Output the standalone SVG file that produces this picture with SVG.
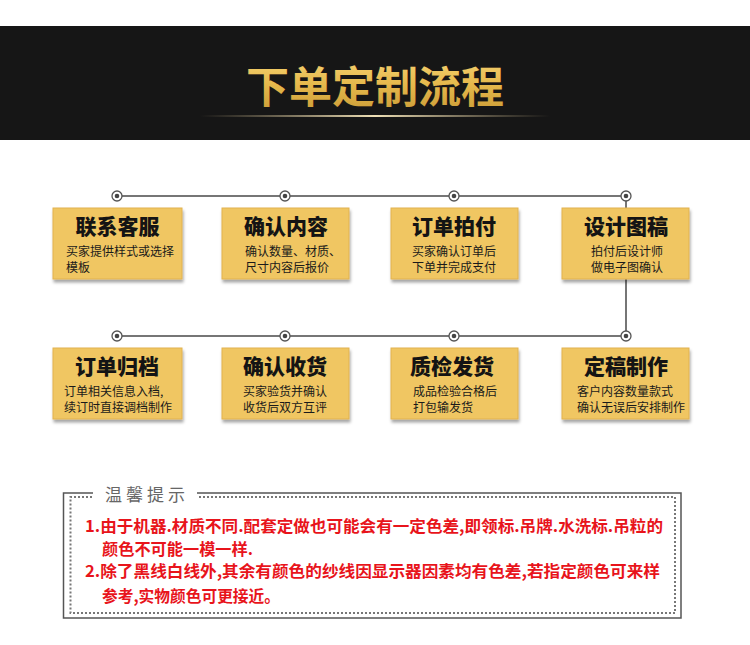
<svg xmlns="http://www.w3.org/2000/svg" width="750" height="645" viewBox="0 0 750 645">
<defs>
<linearGradient id="gold" x1="0" y1="0" x2="0" y2="1">
<stop offset="0" stop-color="#f7d77a"/>
<stop offset="0.5" stop-color="#e6b94c"/>
<stop offset="1" stop-color="#c99a35"/>
</linearGradient>
<linearGradient id="goldline" x1="0" y1="0" x2="1" y2="0">
<stop offset="0" stop-color="#c8b488" stop-opacity="0"/>
<stop offset="0.5" stop-color="#efe0b6" stop-opacity="1"/>
<stop offset="1" stop-color="#c8b488" stop-opacity="0"/>
</linearGradient>
<filter id="shadow" x="-10%" y="-10%" width="125%" height="130%">
<feDropShadow dx="1" dy="3" stdDeviation="1.5" flood-color="#000" flood-opacity="0.35"/>
</filter>
</defs>
<style>
.box{fill:#f0c662;stroke:#e2b24f;stroke-width:1;filter:url(#shadow)}
.t{font-family:"Noto Sans CJK SC","Noto Sans",sans-serif;font-weight:900;font-size:21px;fill:#141414;text-anchor:middle}
.d{font-family:"Noto Sans CJK SC","Noto Sans",sans-serif;font-size:12px;fill:#1a1a1a}
.c{text-anchor:middle}
.ln{stroke:#4a4a4a;stroke-width:1.5;fill:none}
.ring{fill:#fff;stroke:#555;stroke-width:1.3}
.dot{fill:#444}
.red{font-family:"Noto Sans CJK SC","Noto Sans",sans-serif;font-weight:bold;font-size:16px;fill:#e8141b}
</style>
<rect width="750" height="645" fill="#fff"/>
<g id="header">
<rect x="0" y="26" width="750" height="114" fill="#161616"/>
<text x="375" y="103" font-family="Noto Sans CJK SC, sans-serif" font-weight="700" font-size="43" fill="url(#gold)" text-anchor="middle">下单定制流程</text>
<rect x="200" y="115" width="350" height="2" fill="url(#goldline)"/>
</g>
<g id="connectors">
<path class="ln" d="M117 196H626V336M117 336H626"/>
<circle class="ring" cx="117" cy="196" r="5"/><circle class="dot" cx="117" cy="196" r="2.3"/>
<circle class="ring" cx="285" cy="196" r="5"/><circle class="dot" cx="285" cy="196" r="2.3"/>
<circle class="ring" cx="454" cy="196" r="5"/><circle class="dot" cx="454" cy="196" r="2.3"/>
<circle class="ring" cx="626" cy="196" r="5"/><circle class="dot" cx="626" cy="196" r="2.3"/>
<circle class="ring" cx="117" cy="336" r="5"/><circle class="dot" cx="117" cy="336" r="2.3"/>
<circle class="ring" cx="285" cy="336" r="5"/><circle class="dot" cx="285" cy="336" r="2.3"/>
<circle class="ring" cx="454" cy="336" r="5"/><circle class="dot" cx="454" cy="336" r="2.3"/>
<circle class="ring" cx="626" cy="336" r="5"/><circle class="dot" cx="626" cy="336" r="2.3"/>
</g>
<g id="n1"><rect class="box" x="53" y="208" width="129" height="71"/>
<text class="t" x="117.5" y="234">联系客服</text>
<text class="d" x="66" y="256">买家提供样式或选择</text><text class="d" x="66" y="272">模板</text></g>
<g id="n2"><rect class="box" x="222" y="208" width="127" height="71"/>
<text class="t" x="286" y="234">确认内容</text>
<text class="d" x="245" y="256">确认数量、材质、</text><text class="d" x="245" y="272">尺寸内容后报价</text></g>
<g id="n3"><rect class="box" x="391" y="208" width="127" height="71"/>
<text class="t" x="454" y="234">订单拍付</text>
<text class="d c" x="454" y="256">买家确认订单后</text><text class="d c" x="454" y="272">下单并完成支付</text></g>
<g id="n4"><rect class="box" x="562" y="208" width="127" height="71"/>
<text class="t" x="626" y="234">设计图稿</text>
<text class="d c" x="627" y="256">拍付后设计师</text><text class="d c" x="627" y="272">做电子图确认</text></g>
<g id="n5"><rect class="box" x="53" y="348" width="129" height="71"/>
<text class="t" x="117" y="374">订单归档</text>
<text class="d" x="64" y="396">订单相关信息入档,</text><text class="d" x="64" y="412">续订时直接调档制作</text></g>
<g id="n6"><rect class="box" x="222" y="348" width="127" height="71"/>
<text class="t" x="285" y="374">确认收货</text>
<text class="d c" x="285" y="396">买家验货并确认</text><text class="d c" x="285" y="412">收货后双方互评</text></g>
<g id="n7"><rect class="box" x="391" y="348" width="127" height="71"/>
<text class="t" x="452" y="374">质检发货</text>
<text class="d" x="413" y="396">成品检验合格后</text><text class="d" x="413" y="412">打包输发货</text></g>
<g id="n8"><rect class="box" x="562" y="348" width="127" height="71"/>
<text class="t" x="626" y="374">定稿制作</text>
<text class="d" x="577" y="396">客户内容数量款式</text><text class="d" x="577" y="412">确认无误后安排制作</text></g>
<g id="notice">
<path d="M93 493H63.5V618H681V493H197" fill="none" stroke="#555" stroke-width="1.5"/>
<path d="M92 497H70.5V613H675V497H197" fill="none" stroke="#777" stroke-width="2" stroke-dasharray="2 2"/>
<text x="105" y="501" font-family="Noto Sans CJK SC, sans-serif" font-size="17" fill="#666" letter-spacing="4">温馨提示</text>
<text class="red" x="85" y="532" textLength="578" lengthAdjust="spacingAndGlyphs">1.由于机器.材质不同.配套定做也可能会有一定色差,即领标.吊牌.水洗标.吊粒的</text>
<text class="red" x="102" y="555" textLength="151" lengthAdjust="spacingAndGlyphs">颜色不可能一模一样.</text>
<text class="red" x="85" y="577" textLength="575" lengthAdjust="spacingAndGlyphs">2.除了黑线白线外,其余有颜色的纱线因显示器因素均有色差,若指定颜色可来样</text>
<text class="red" x="102" y="602" textLength="178" lengthAdjust="spacingAndGlyphs">参考,实物颜色可更接近。</text>
</g>
</svg>
